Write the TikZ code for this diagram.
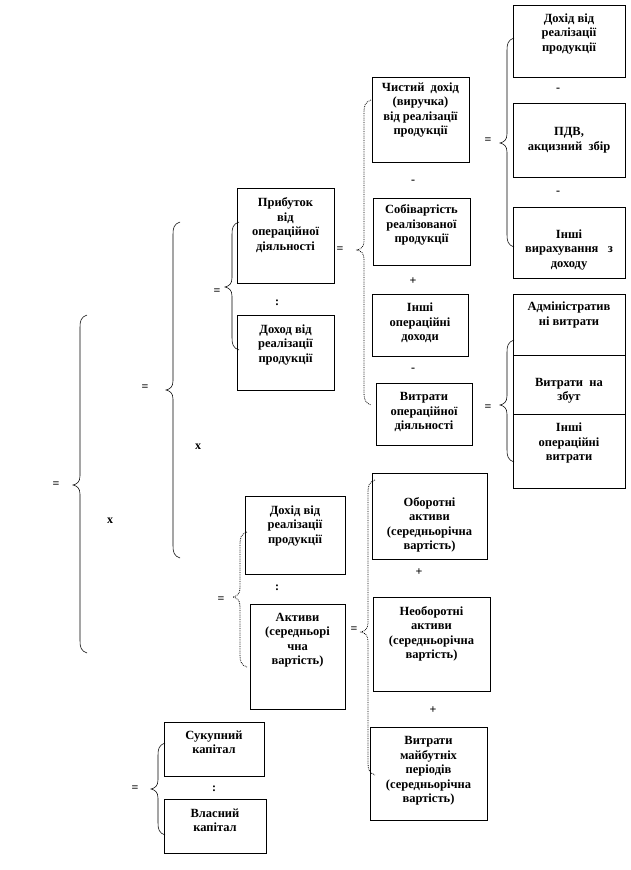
\documentclass[tikz,border=0pt]{standalone}
\usepackage{fontspec}
\setmainfont{Liberation Serif}
\tikzset{
  box/.style={draw=black, line width=0.6pt, inner sep=0pt, outer sep=0pt, anchor=north west},
  txt/.style={align=center, inner sep=0pt, font=\fontsize{12.5}{14.5}\selectfont\bfseries},
  sign/.style={inner sep=0pt, font=\fontsize{12}{14}\selectfont\bfseries},
  brc/.style={draw=black, line width=0.55pt},
  dbrc/.style={draw=black, line width=0.8pt, densely dotted}
}
\newcommand\bx[7]{%
  \node[box, minimum width={(#4-#2)*1pt}, minimum height={(#5-#3)*1pt}] (#1) at (#2,#3) {};
  \node[txt] (#1t) at ({(#2+#4)/2},#6) {#7};}
\newcommand\mybrace[5]{%
  \draw[#5] (#1+7,#2) .. controls (#1+1,#2+2) and (#1,#2+6) .. (#1,#2+12) -- (#1,#4-9)
    .. controls (#1,#4-3) and (#1-3,#4-1) .. (#1-7,#4)
    .. controls (#1-3,#4+1) and (#1,#4+3) .. (#1,#4+9) -- (#1,#3-12)
    .. controls (#1,#3-6) and (#1+1,#3-2) .. (#1+7,#3);}
\begin{document}
\begin{tikzpicture}[x=1pt,y=-1pt]
\useasboundingbox[fill=white] (0,0) rectangle (630,870);
% right column top
\bx{A1}{513}{5}{625}{77}{34}{Дохід від\\реалізації\\продукції}
\bx{A2}{513}{103}{625}{177}{140}{ПДВ,\\акцизний\ \ збір}
\bx{A3}{513}{207}{625}{278}{250}{Інші\\вирахування\ \ \ з\\доходу}
% middle column top
\bx{B1}{372}{77}{469}{162}{110}{Чистий\ \ дохід\\(виручка)\\від реалізації\\продукції}
\bx{B2}{373}{198}{470}{265}{225}{Собівартість\\реалізованої\\продукції}
\bx{B3}{372}{294}{468}{356}{323}{Інші\\операційні\\доходи}
\bx{B4}{376}{383}{472}{445}{412}{Витрати\\операційної\\діяльності}
% right column bottom (stacked)
\bx{C1}{513}{294}{625}{355}{315}{Адміністратив\\ні витрати}
\bx{C2}{513}{355}{625}{414}{391}{Витрати\ \ на\\збут}
\bx{C3}{513}{414}{625}{488}{443}{Інші\\операційні\\витрати}
% second level
\bx{D1}{237}{188}{334}{283}{225}{Прибуток\\від\\операційної\\діяльності}
\bx{D2}{237}{315}{334}{390}{345}{Доход від\\реалізації\\продукції}
\bx{E1}{245}{496}{345}{574}{526}{Дохід від\\реалізації\\продукції}
\bx{E2}{250}{604}{345}{709}{640}{Активи\\(середньорі\\чна\\вартість)}
\bx{F1}{372}{473}{487}{559}{525}{Оборотні\\активи\\(середньорічна\\вартість)}
\bx{F2}{373}{597}{490}{691}{634}{Необоротні\\активи\\(середньорічна\\вартість)}
\bx{F3}{370}{727}{487}{820}{771}{Витрати\\майбутніх\\періодів\\(середньорічна\\вартість)}
\bx{G1}{164}{722}{264}{776}{742}{Сукупний\\капітал}
\bx{G2}{164}{799}{266}{853}{820}{Власний\\капітал}
% braces
\mybrace{80}{315}{653}{485}{brc}
\mybrace{173}{222}{558}{390}{brc}
\mybrace{232}{222}{350}{287}{brc}
\mybrace{364}{100}{405}{250}{dbrc}
\mybrace{507}{38}{247}{143}{brc}
\mybrace{507}{340}{462}{405}{brc}
\mybrace{240}{532}{667}{597}{dbrc}
\mybrace{368}{480}{775}{632}{dbrc}
\mybrace{158}{743}{835}{789}{brc}
% signs
\node[sign] (s1) at (56,485) {=};
\node[sign] (s2) at (110,521) {х};
\node[sign] (s3) at (145,388) {=};
\node[sign] (s4) at (198,447) {х};
\node[sign] (s5) at (217,292) {=};
\node[sign] (s6) at (277,303) {:};
\node[sign] (s7) at (340,250) {=};
\node[sign] (s8) at (488,141) {=};
\node[sign] (s9) at (558,90) {-};
\node[sign] (s10) at (558,193) {-};
\node[sign] (s11) at (413,182) {-};
\node[sign] (s12) at (413,281) {+};
\node[sign] (s13) at (413,370) {-};
\node[sign] (s14) at (488,408) {=};
\node[sign] (s15) at (221,600) {=};
\node[sign] (s16) at (277,588) {:};
\node[sign] (s17) at (354,630) {=};
\node[sign] (s18) at (419,572) {+};
\node[sign] (s19) at (433,710) {+};
\node[sign] (s20) at (135,789) {=};
\node[sign] (s21) at (214,789) {:};
\end{tikzpicture}
\end{document}
